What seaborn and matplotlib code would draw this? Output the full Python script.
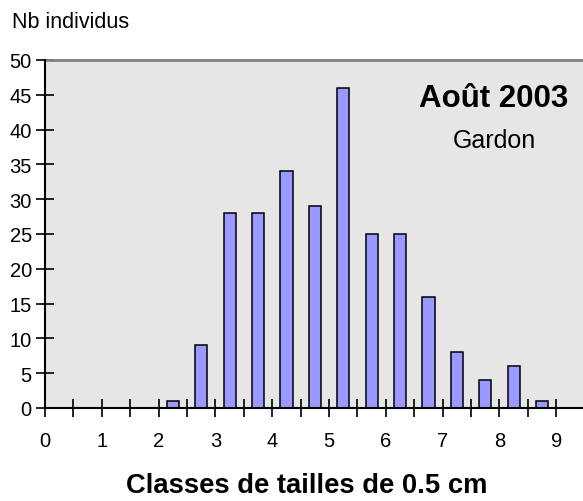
import numpy as np
import pandas as pd
import matplotlib
matplotlib.use("Agg")
import matplotlib.pyplot as plt
import seaborn as sns

# Size classes (cm, centre of each 0.5 cm class) and number of fish per class
size_classes = [2.25, 2.75, 3.25, 3.75, 4.25, 4.75, 5.25, 5.75, 6.25, 6.75, 7.25, 7.75, 8.25, 8.75]
counts = [1, 9, 28, 28, 34, 29, 46, 25, 25, 16, 8, 4, 6, 1]
x_tick_labels = ["0", "1", "2", "3", "4", "5", "6", "7", "8", "9"]
y_ticks = [0, 5, 10, 15, 20, 25, 30, 35, 40, 45, 50]

df = pd.DataFrame({"classe": size_classes, "n": counts})

sns.set_style("white")
plt.rcParams["font.family"] = ["Liberation Sans", "DejaVu Sans"]
plt.rcParams["text.color"] = "black"

W, H, DPI = 583, 502, 100
fig = plt.figure(figsize=(W / DPI, H / DPI), dpi=DPI)
fig.patch.set_facecolor("white")
ax = fig.add_axes([45 / W, (H - 409) / H, (W - 45) / W, (409 - 61) / H])
ax.set_facecolor("#e6e6e6")

sns.barplot(data=df, x="classe", y="n", native_scale=True, width=0.43,
            color="#9999ff", saturation=1, edgecolor="black", linewidth=1.1,
            ax=ax, zorder=3)

ax.set_xlim(0, 9.47)
ax.set_ylim(0, 50)
ax.set_xticks(np.arange(0, 10, 1))
ax.set_xticklabels(x_tick_labels)
ax.set_xticks(np.arange(0.5, 9, 1), minor=True)
ax.set_yticks(y_ticks)
ax.set_yticklabels([str(v) for v in y_ticks])
ax.set_xlabel("")
ax.set_ylabel("")

ax.tick_params(axis="both", which="both", direction="inout", length=13,
               width=1.2, color="black", labelsize=14.5, labelcolor="black")
ax.tick_params(axis="x", which="both", bottom=True, pad=10)
ax.tick_params(axis="y", which="major", left=True, pad=3)

for side in ("left", "bottom"):
    ax.spines[side].set_visible(True)
    ax.spines[side].set_color("black")
    ax.spines[side].set_linewidth(1.5)
    ax.spines[side].set_zorder(4)
ax.spines["top"].set_visible(True)
ax.spines["top"].set_color("#808080")
ax.spines["top"].set_linewidth(2)
ax.spines["right"].set_visible(False)

fig.text(12 / W, 1 - 22 / H, "Nb individus", fontsize=15.5, color="black",
         ha="left", va="center")
fig.text(494 / W, 1 - 99 / H, "Août 2003", fontsize=22.5, fontweight="bold",
         color="black", ha="center", va="center")
fig.text(494 / W, 1 - 141 / H, "Gardon", fontsize=18, color="black",
         ha="center", va="center")
fig.text(307 / W, 1 - 486 / H, "Classes de tailles de 0.5 cm", fontsize=19.7,
         fontweight="bold", color="black", ha="center", va="center")

fig.savefig("out.png", dpi=DPI)
